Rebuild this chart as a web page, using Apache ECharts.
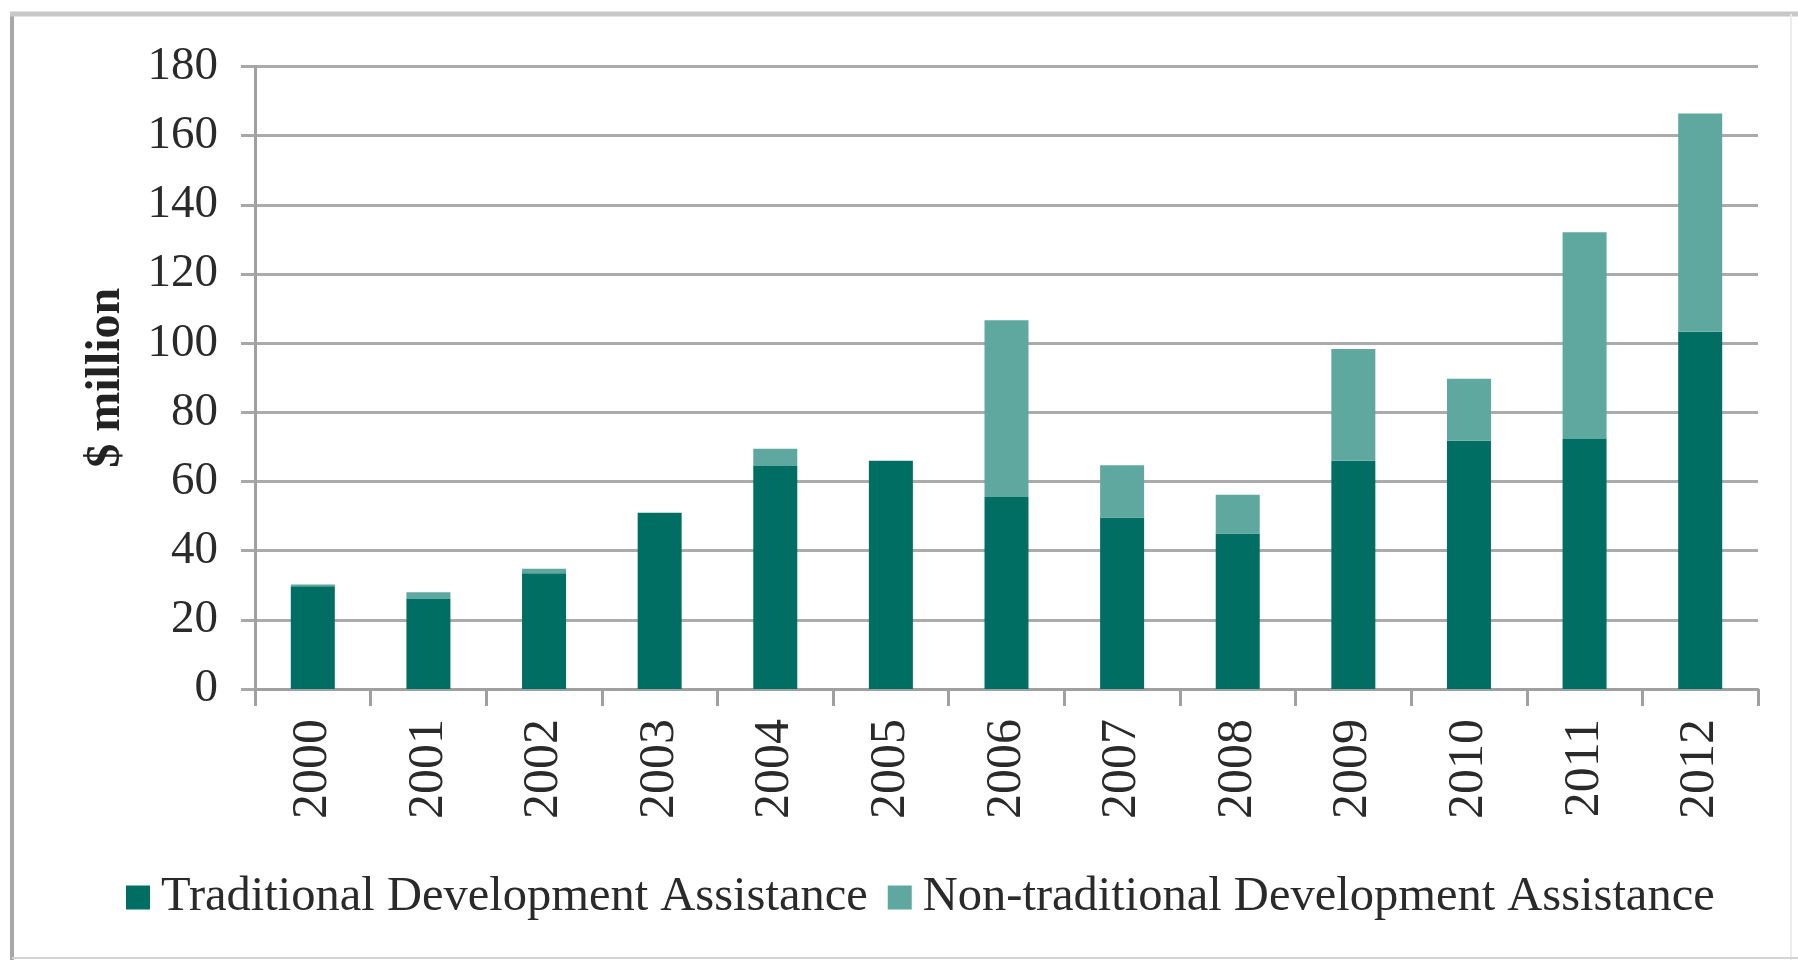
<!DOCTYPE html>
<html>
<head>
<meta charset="utf-8">
<script src="https://cdn.jsdelivr.net/npm/echarts@6/dist/echarts.min.js"></script>
<style>
html,body{margin:0;padding:0;background:#fff;}
#chart{width:1798px;height:960px;}
</style>
</head>
<body>
<div id="chart"></div>
<script>
const years = ['2000','2001','2002','2003','2004','2005','2006','2007','2008','2009','2010','2011','2012'];
const traditional = [29.7, 26, 33.5, 51, 64.5, 66, 55.5, 49.6, 45, 66, 71.8, 72.3, 103.3];
const nonTraditional = [0.5, 2, 1.3, 0, 5, 0, 51.1, 15.1, 11.2, 32.3, 17.9, 59.8, 63.1];
const yTicks = {min: 0, max: 180, interval: 20};
const seriesNames = ['Traditional Development Assistance', 'Non-traditional Development Assistance'];
const yTitle = '$ million';

const FONT = '"Liberation Serif", "DejaVu Serif", serif';
const chart = echarts.init(document.getElementById('chart'), null, {renderer: 'canvas'});
chart.setOption({
  backgroundColor: '#ffffff',
  animation: false,
  grid: {left: 255, right: 40, top: 66.5, bottom: 271, containLabel: false},
  legend: {
    data: seriesNames,
    left: 121,
    top: 868,
    itemWidth: 24,
    itemHeight: 24,
    itemGap: 20,
    icon: 'rect',
    textStyle: {fontFamily: FONT, fontSize: 48.5, color: '#2a2a2a', lineHeight: 48, padding: [0, 0, 0, 6]}
  },
  xAxis: {
    type: 'category',
    data: years,
    boundaryGap: true,
    axisLine: {show: true, lineStyle: {color: '#a0a0a0', width: 3}},
    axisTick: {show: true, length: 17, lineStyle: {color: '#a0a0a0', width: 3}},
    axisLabel: {rotate: 90, margin: 30, fontFamily: FONT, fontSize: 50, color: '#2a2a2a'}
  },
  yAxis: {
    type: 'value',
    min: yTicks.min, max: yTicks.max, interval: yTicks.interval,
    name: yTitle,
    nameLocation: 'middle',
    nameRotate: 90,
    nameGap: 124,
    nameTextStyle: {fontFamily: FONT, fontSize: 48, fontWeight: 'bold', color: '#222'},
    axisLine: {show: true, lineStyle: {color: '#a0a0a0', width: 3}},
    axisTick: {show: true, length: 14, lineStyle: {color: '#a8a8a8', width: 3}},
    axisLabel: {margin: 37, fontFamily: FONT, fontSize: 47, color: '#2a2a2a'},
    splitLine: {show: true, lineStyle: {color: '#ababab', width: 3}}
  },
  series: [
    {name: seriesNames[0], type: 'bar', stack: 'total', data: traditional, barWidth: 44,
     itemStyle: {color: '#006e62'}},
    {name: seriesNames[1], type: 'bar', stack: 'total', data: nonTraditional, barWidth: 44,
     itemStyle: {color: '#5fa8a0'}}
  ],
  graphic: [
    {type: 'line', shape: {x1: 12, y1: 12, x2: 12, y2: 960}, style: {stroke: '#a8a8a8', lineWidth: 4}},
    {type: 'line', shape: {x1: 10, y1: 14, x2: 1798, y2: 14}, style: {stroke: '#c8c8c8', lineWidth: 5}},
    {type: 'line', shape: {x1: 1791, y1: 14, x2: 1791, y2: 960}, style: {stroke: '#ececec', lineWidth: 2}},
    {type: 'line', shape: {x1: 12, y1: 958, x2: 1798, y2: 958}, style: {stroke: '#d4d4d4', lineWidth: 2}}
  ]
});
</script>
</body>
</html>
